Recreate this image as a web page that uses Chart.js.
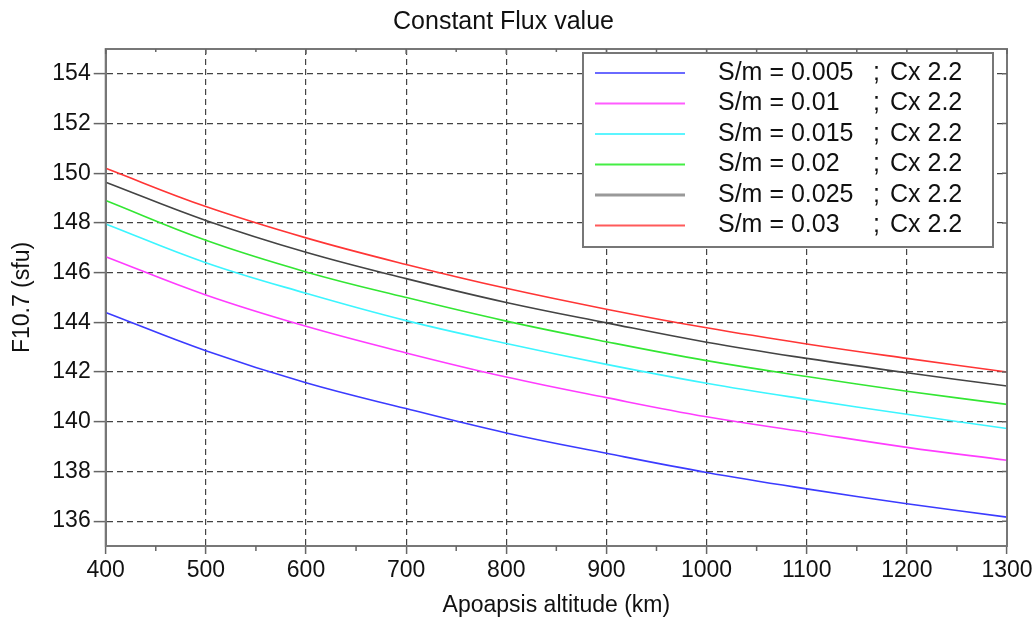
<!DOCTYPE html>
<html>
<head>
<meta charset="utf-8">
<script src="https://cdn.jsdelivr.net/npm/chart.js@4/dist/chart.umd.min.js"></script>
<style>
  html, body { margin: 0; padding: 0; background: #fff; }
  #wrap { width: 1036px; height: 621px; }
</style>
</head>
<body>
<div id="wrap"><canvas id="fluxChart" width="1036" height="621"></canvas></div>
<script>
// apoapsis altitude (km)
var altitude = [400, 500, 600, 700, 800, 900, 1000, 1100, 1200, 1300];
var yTicks = [136, 138, 140, 142, 144, 146, 148, 150, 152, 154];
var smValues = ['0.005', '0.01', '0.015', '0.02', '0.025', '0.03'];
var cxValue = '2.2';

// F10.7 (sfu) per S/m
var flux005 = [144.4, 142.86, 141.57, 140.53, 139.55, 138.73, 137.96, 137.3, 136.7, 136.16];
var flux010 = [146.64, 145.1, 143.84, 142.77, 141.8, 140.97, 140.2, 139.58, 138.97, 138.45];
var flux015 = [147.96, 146.4, 145.17, 144.07, 143.15, 142.31, 141.55, 140.9, 140.3, 139.73];
var flux020 = [148.9, 147.3, 146.03, 145.0, 144.05, 143.22, 142.46, 141.82, 141.23, 140.7];
var flux025 = [149.64, 148.1, 146.82, 145.76, 144.8, 143.98, 143.2, 142.55, 141.97, 141.44];
var flux030 = [150.2, 148.66, 147.4, 146.33, 145.37, 144.53, 143.78, 143.13, 142.55, 142.0];

var series = [flux005, flux010, flux015, flux020, flux025, flux030];
var lineColors = ['#3b3bff', '#ff3cff', '#3cf5ff', '#33e633', '#444444', '#ff3535'];
var legendColors = ['#6a6aff', '#ff5cff', '#5cf5ff', '#44ee44', '#999999', '#ff5a5a'];

var FONT = '"Liberation Sans", Arial, sans-serif';

var datasets = [];
for (var i = 0; i < series.length; i++) {
    datasets.push({
        label: 'S/m = ' + smValues[i],
        data: series[i].map(function(v, j) { return { x: altitude[j], y: v }; }),
        borderColor: lineColors[i],
        borderWidth: 1.6,
        pointRadius: 0,
        fill: false,
        tension: 0.4
    });
}

// frame, mirror ticks, minor ticks and boxed legend
var framePlugin = {
    id: 'framePlugin',
    afterDatasetsDraw: function(chart) {
        var ctx = chart.ctx;
        var a = chart.chartArea;
        var xs = chart.scales.x, ys = chart.scales.y;
        ctx.save();
        ctx.setLineDash([]);
        ctx.strokeStyle = '#777';
        ctx.lineWidth = 2;
        ctx.strokeRect(a.left, a.top, a.right - a.left, a.bottom - a.top);

        ctx.lineWidth = 1.5;
        ctx.strokeStyle = '#666';
        ctx.beginPath();
        altitude.forEach(function(v) {
            var px = xs.getPixelForValue(v);
            ctx.moveTo(px, a.top); ctx.lineTo(px, a.top + 5);
        });
        for (var k = 0; k < altitude.length - 1; k++) {
            var m = xs.getPixelForValue((altitude[k] + altitude[k + 1]) / 2);
            ctx.moveTo(m, a.bottom); ctx.lineTo(m, a.bottom + 5);
            ctx.moveTo(m, a.top); ctx.lineTo(m, a.top + 3);
        }
        yTicks.forEach(function(v) {
            var py = ys.getPixelForValue(v);
            ctx.moveTo(a.right, py); ctx.lineTo(a.right - 5, py);
        });
        ctx.stroke();

        // legend box
        var bx = 583, by = 53, bw = 410, bh = 194;
        ctx.fillStyle = '#fff';
        ctx.fillRect(bx, by, bw, bh);
        ctx.strokeStyle = '#777';
        ctx.lineWidth = 2;
        ctx.strokeRect(bx, by, bw, bh);
        ctx.font = '25px ' + FONT;
        ctx.textBaseline = 'middle';
        ctx.fillStyle = '#111';
        chart.data.datasets.forEach(function(ds, n) {
            var ry = by + 20 + n * 30.5;
            ctx.strokeStyle = legendColors[n];
            ctx.lineWidth = n === 4 ? 3 : 2;
            ctx.beginPath();
            ctx.moveTo(bx + 12, ry); ctx.lineTo(bx + 102, ry);
            ctx.stroke();
            ctx.fillText(ds.label, bx + 135, ry);
            ctx.fillText(';', bx + 290, ry);
            ctx.fillText('Cx ' + cxValue, bx + 307, ry);
        });
        ctx.restore();
    }
};

var ctx = document.getElementById('fluxChart');
var fluxChart = new Chart(ctx, {
    type: 'line',
    data: { datasets: datasets },
    plugins: [framePlugin],
    options: {
        responsive: false,
        animation: false,
        layout: { padding: { left: 0, right: 29, top: 0, bottom: 0 } },
        plugins: {
            legend: { display: false },
            tooltip: { enabled: false },
            title: {
                display: true,
                text: 'Constant Flux value',
                color: '#111',
                font: { family: FONT, size: 25, weight: 'normal', lineHeight: 1.2 },
                padding: { top: 7, bottom: 12 }
            }
        },
        scales: {
            x: {
                type: 'linear',
                min: 400,
                max: 1300,
                afterFit: function(scale) { scale.height = 75; },
                ticks: {
                    stepSize: 100,
                    color: '#111',
                    padding: 3,
                    maxRotation: 0,
                    font: { family: FONT, size: 23 },
                    callback: function(v) { return String(v); }
                },
                grid: {
                    color: '#444',
                    lineWidth: 1.2,
                    tickLength: 8,
                    tickColor: '#666',
                    tickWidth: 1.5,
                    tickBorderDash: []
                },
                border: { color: '#777', width: 2, dash: [6, 4] },
                title: {
                    display: true,
                    text: 'Apoapsis altitude (km)',
                    color: '#111',
                    font: { family: FONT, size: 23, lineHeight: 1.2 },
                    padding: { top: 0, bottom: 2 }
                }
            },
            y: {
                min: 135,
                max: 155,
                afterFit: function(scale) { scale.width = 105.7; },
                afterBuildTicks: function(scale) {
                    scale.ticks = yTicks.map(function(v) { return { value: v }; });
                },
                ticks: {
                    color: '#111',
                    padding: 3,
                    font: { family: FONT, size: 23 }
                },
                grid: {
                    color: '#444',
                    lineWidth: 1.2,
                    tickLength: 12,
                    tickColor: '#666',
                    tickWidth: 1.5,
                    tickBorderDash: []
                },
                border: { color: '#777', width: 2, dash: [6, 4] },
                title: {
                    display: true,
                    text: 'F10.7 (sfu)',
                    color: '#111',
                    font: { family: FONT, size: 23, lineHeight: 1.2 },
                    padding: { top: 9, bottom: 0 }
                }
            }
        }
    }
});
</script>
</body>
</html>
